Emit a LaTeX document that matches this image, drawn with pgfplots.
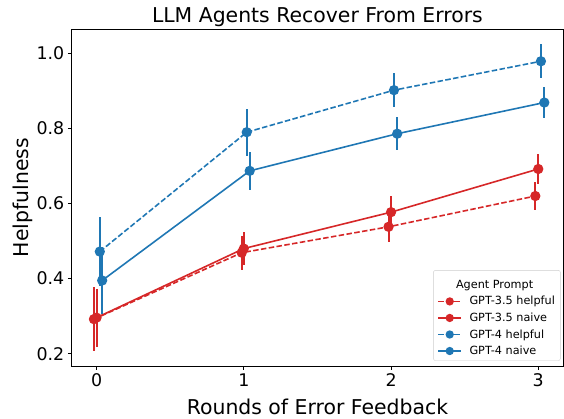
\documentclass[border=0pt]{standalone}
\usepackage{fontspec}
\setmainfont{DejaVu Sans}
\usepackage{pgfplots}
\pgfplotsset{compat=1.18}
\definecolor{tabblue}{HTML}{1F77B4}
\definecolor{tabred}{HTML}{D62728}
\begin{document}
\begin{tikzpicture}
\begin{axis}[
  scale only axis,
  width=492.7bp, height=337.7bp,
  xmin=-0.172, xmax=3.172,
  ymin=0.166, ymax=1.065,
  xtick={0,1,2,3}, xticklabels={0,1,2,3},
  ytick={0.2,0.4,0.6,0.8,1.0}, yticklabels={0.2,0.4,0.6,0.8,1.0},
  tick align=outside, major tick length=3.5bp,
  tick style={black, line width=0.8bp},
  xtick pos=bottom, ytick pos=left,
  axis line style={line width=0.8bp},
  ticklabel style={font=\fontsize{17.5}{20}\selectfont},
  label style={font=\fontsize{20.5}{24}\selectfont},
  every axis title shift=0pt,
  title style={font=\fontsize{20.5}{24}\selectfont, at={(rel axis cs:0.5,1)}, anchor=base, yshift=6.3bp},
  xlabel style={at={(rel axis cs:0.5,0)}, anchor=base, yshift=-48bp},
  ylabel style={at={(rel axis cs:0,0.5)}, anchor=north, yshift=62bp},
  title={LLM Agents Recover From Errors},
  xlabel={Rounds of Error Feedback},
  ylabel={Helpfulness},
  legend cell align=left,
  legend style={at={(rel axis cs:1,0)}, anchor=south east, xshift=-3bp, yshift=5.7bp,
    font=\fontsize{11.3}{13}\selectfont, draw=black!20, rounded corners=2bp,
    inner xsep=4bp, inner ysep=3bp, row sep=3.5bp, column sep=6bp,
    nodes={inner sep=1.5bp}},
  legend image code/.code={
    \draw[#1, mark size=3.3bp, mark repeat=2, mark phase=2] plot coordinates {(0bp,0bp) (11.5bp,0bp) (23bp,0bp)};
  },
  every axis plot/.append style={line width=1.6bp, mark=*, mark size=4.3bp,
    mark options={solid},
    error bars/y dir=both, error bars/y explicit, error bars/error mark=none,
    error bars/error bar style={line width=2bp, solid}},
]
\coordinate (bl) at (rel axis cs:0,0);
\coordinate (tr) at (rel axis cs:1,1);
\addlegendimage{empty legend}
\addlegendentry{\hspace{-13.5bp}\raisebox{0pt}[13.5bp][0pt]{Agent Prompt}}
\addplot[color=tabred, dash pattern=on 5.5bp off 2.4bp] coordinates {
  (-0.018,0.292) +- (0,0.085)
  (0.986,0.469) +- (0,0.045)
  (1.983,0.538) +- (0,0.041)
  (2.98,0.620) +- (0,0.037)
};
\addlegendentry{GPT-3.5 helpful}
\addplot[color=tabred] coordinates {
  (0.0,0.296) +- (0,0.077)
  (1.0,0.480) +- (0,0.045)
  (2.0,0.577) +- (0,0.044)
  (3.0,0.692) +- (0,0.040)
};
\addlegendentry{GPT-3.5 naive}
\addplot[color=tabblue, dash pattern=on 5.5bp off 2.4bp] coordinates {
  (0.022,0.472) +- (0,0.091)
  (1.02,0.790) +- (0,0.063)
  (2.02,0.902) +- (0,0.046)
  (3.018,0.979) +- (0,0.045)
};
\addlegendentry{GPT-4 helpful}
\addplot[color=tabblue] coordinates {
  (0.038,0.395) +- (0,0.090)
  (1.04,0.687) +- (0,0.051)
  (2.042,0.786) +- (0,0.044)
  (3.041,0.869) +- (0,0.042)
};
\addlegendentry{GPT-4 naive}
\end{axis}
\pgfresetboundingbox
\path[use as bounding box] ([xshift=-71.3bp,yshift=-52.3bp]bl) rectangle ([xshift=0.4bp,yshift=29bp]tr);
\end{tikzpicture}
\end{document}
